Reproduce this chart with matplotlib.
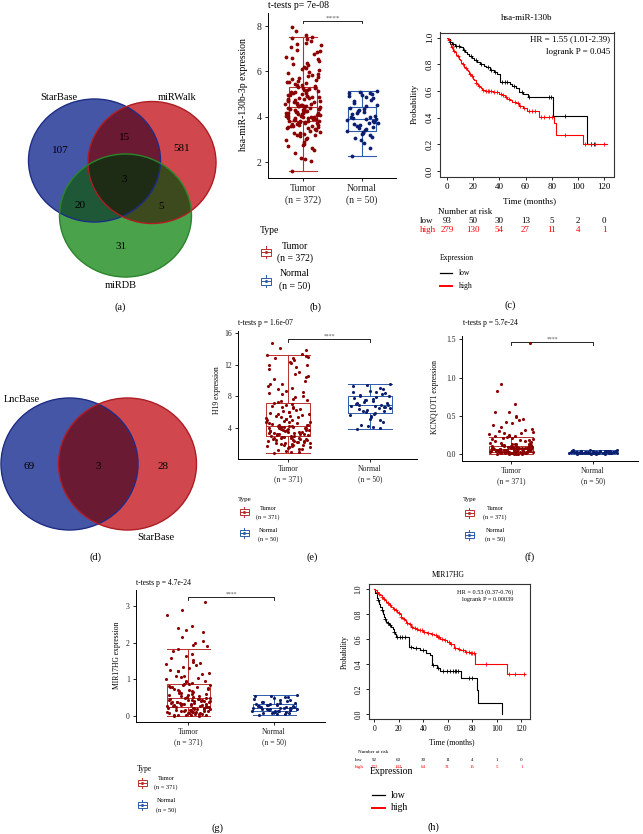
import numpy as np
import matplotlib
matplotlib.use("Agg")
import matplotlib.pyplot as plt
from matplotlib.patches import Ellipse, Rectangle
from matplotlib.colors import to_rgba
from matplotlib import transforms

plt.rcParams['font.family'] = ['Liberation Serif', 'DejaVu Serif']

# ======================= DATA =======================
# (a) Venn: StarBase / miRWalk / miRDB  (bit1=StarBase, bit2=miRWalk, bit4=miRDB)
venn_a_names = ["StarBase", "miRWalk", "miRDB"]
venn_a_counts = {1: 107, 2: 581, 4: 31, 3: 15, 5: 20, 6: 5, 7: 3}
# (d) Venn: LncBase / StarBase
venn_d_names = ["LncBase", "StarBase"]
venn_d_counts = {1: 69, 2: 28, 3: 3}

groups = ["Tumor", "Normal"]

# (b) hsa-miR-130b-3p expression
b_n = [372, 50]
b_q1 = [3.80, 3.36]
b_med = [4.42, 3.88]
b_q3 = [5.30, 4.42]
b_lo = [1.60, 2.27]
b_hi = [7.52, 5.12]
b_tumor = [1.62, 2.05, 2.12, 2.16, 2.38, 2.55, 2.63, 2.74, 2.81, 2.88,
           2.95, 3.02, 3.07, 3.13, 3.18, 3.21, 3.27, 3.30, 3.33, 3.38,
           3.41, 3.44, 3.48, 3.50, 3.53, 3.57, 3.58, 3.61, 3.64, 3.66,
           3.68, 3.71, 3.72, 3.75, 3.76, 3.79, 3.80, 3.82, 3.85, 3.86,
           3.88, 3.91, 3.92, 3.94, 3.97, 3.98, 4.00, 4.03, 4.04, 4.06,
           4.09, 4.10, 4.12, 4.15, 4.16, 4.18, 4.21, 4.22, 4.24, 4.27,
           4.28, 4.30, 4.33, 4.34, 4.36, 4.39, 4.40, 4.42, 4.45, 4.46,
           4.48, 4.51, 4.52, 4.55, 4.58, 4.61, 4.63, 4.66, 4.70, 4.72,
           4.75, 4.79, 4.81, 4.84, 4.88, 4.90, 4.93, 4.97, 5.00, 5.03,
           5.07, 5.10, 5.14, 5.19, 5.22, 5.26, 5.31, 5.34, 5.38, 5.43,
           5.47, 5.52, 5.58, 5.62, 5.68, 5.75, 5.80, 5.86, 5.93, 5.98,
           6.05, 6.13, 6.20, 6.28, 6.37, 6.45, 6.55, 6.64, 6.75, 6.86,
           6.95, 7.06, 7.15, 7.26, 7.35, 7.44, 7.52, 7.60, 7.76, 7.95,
           3.55, 3.62, 3.70, 3.83, 3.95, 4.02, 4.14, 4.26, 4.37, 4.49,
           4.57, 4.68, 4.77, 4.86, 4.95, 5.05, 5.16, 5.28, 5.40, 5.55,
           5.70, 5.90, 6.10, 6.32, 6.60, 6.90, 7.20, 7.48, 3.25, 2.70]
b_normal = [2.25, 2.62, 2.85, 2.95, 3.05, 3.12, 3.18, 3.22, 3.28, 3.32,
            3.36, 3.40, 3.45, 3.50, 3.55, 3.58, 3.62, 3.66, 3.70, 3.74,
            3.78, 3.82, 3.85, 3.88, 3.90, 3.93, 3.97, 4.00, 4.05, 4.10,
            4.15, 4.20, 4.25, 4.30, 4.35, 4.40, 4.45, 4.52, 4.60, 4.68,
            4.75, 4.82, 4.88, 4.92, 4.96, 5.00, 5.03, 5.06, 5.09, 5.12]

# (c) KM hsa-miR-130b
c_low_t = [0, 1, 2, 3.6, 6, 8, 10, 12, 14, 15, 17, 19, 21, 23, 25, 28, 30, 33, 36,
           38, 40.5, 48, 50, 53, 55, 58, 62, 81, 107, 114.5]
c_low_s = [1.0, 0.99, 0.97, 0.95, 0.94, 0.935, 0.93, 0.91, 0.89, 0.88, 0.86, 0.845,
           0.83, 0.82, 0.80, 0.79, 0.78, 0.76, 0.745, 0.73, 0.67, 0.65, 0.635, 0.62,
           0.59, 0.575, 0.553, 0.417, 0.206, 0.206]
c_high_t = [0, 1, 2, 3, 4, 5, 6, 7, 8, 9, 10, 11, 12, 13, 14, 15, 16, 17, 18, 19, 20,
            21, 22, 23, 24, 25, 26, 27, 28, 29, 35, 37, 40, 42, 44, 46, 48, 50, 53, 55,
            58, 61, 70, 82, 83, 83.5, 104, 122]
c_high_s = [1.0, 0.98, 0.95, 0.93, 0.92, 0.90, 0.89, 0.87, 0.86, 0.84, 0.83, 0.81,
            0.80, 0.78, 0.77, 0.76, 0.75, 0.73, 0.72, 0.71, 0.69, 0.68, 0.66, 0.65,
            0.64, 0.63, 0.62, 0.61, 0.605, 0.60, 0.595, 0.59, 0.58, 0.57, 0.555, 0.54,
            0.53, 0.52, 0.51, 0.49, 0.47, 0.454, 0.404, 0.36, 0.32, 0.273, 0.20, 0.20]
c_low_cens = [2, 5, 7, 9, 13, 18, 22, 26, 31, 34, 37, 42, 44, 46, 51, 57, 63, 78,
              79.5, 90, 110, 112.5]
c_high_cens = [1.5, 3.5, 5.5, 8.5, 12.5, 14.5, 17.5, 19.5, 22.5, 24.5, 27.5, 30, 31,
               32, 34, 36, 38, 41, 43, 45, 47, 52, 54, 56, 59, 63, 65, 67, 72, 74, 78,
               80, 90, 105, 110, 113, 120]
c_risk_times = [0, 20, 40, 60, 80, 100, 120]
c_risk_low = [93, 50, 30, 13, 5, 2, 0]
c_risk_high = [279, 130, 54, 27, 11, 4, 1]

# (e) H19 expression
e_n = [371, 50]
e_q1 = [3.0, 5.9]
e_med = [4.25, 6.9]
e_q3 = [7.1, 8.05]
e_lo = [0.85, 3.9]
e_hi = [13.25, 9.5]
e_tumor = [0.80, 0.92, 1.00, 1.12, 1.20, 1.31, 1.40, 1.48, 1.55, 1.62, 1.70, 1.74,
           1.80, 1.86, 1.90, 1.98, 2.05, 2.10, 2.14, 2.20, 2.26, 2.30, 2.35, 2.41,
           2.45, 2.50, 2.56, 2.60, 2.65, 2.71, 2.75, 2.80, 2.86, 2.90, 2.95, 3.00,
           3.05, 3.10, 3.14, 3.20, 3.25, 3.30, 3.35, 3.41, 3.45, 3.50, 3.55, 3.60,
           3.66, 3.70, 3.75, 3.81, 3.85, 3.90, 3.96, 4.00, 4.05, 4.10, 4.16, 4.20,
           4.25, 4.31, 4.35, 4.42, 4.50, 4.58, 4.66, 4.75, 4.82, 4.90, 5.00, 5.08,
           5.16, 5.25, 5.35, 5.44, 5.52, 5.62, 5.72, 5.80, 5.92, 6.00, 6.12, 6.25,
           6.38, 6.50, 6.62, 6.75, 6.88, 7.00, 7.10, 7.30, 7.50, 7.70, 7.92, 8.10,
           8.30, 8.52, 8.70, 8.92, 9.10, 9.32, 9.60, 9.90, 10.20, 10.50, 10.82,
           11.10, 11.40, 11.72, 12.00, 12.22, 12.40, 12.62, 12.80, 13.00, 13.10,
           13.20, 13.30, 13.80, 14.10, 14.70,
           1.65, 1.95, 2.22, 2.48, 2.68, 2.92, 3.18, 3.38, 3.58, 3.78, 3.98, 4.18,
           4.40, 4.70, 5.05, 5.50, 6.05, 6.70, 7.40, 8.40, 9.50, 10.60, 11.90, 12.90]
e_normal = [3.90, 3.95, 4.10, 4.30, 4.35, 4.80, 5.00, 5.20, 5.40, 5.50, 5.70, 5.80,
            5.90, 6.00, 6.10, 6.20, 6.30, 6.40, 6.50, 6.55, 6.60, 6.70, 6.75, 6.80,
            6.85, 6.90, 6.95, 7.00, 7.10, 7.20, 7.30, 7.40, 7.50, 7.60, 7.70, 7.80,
            7.90, 8.00, 8.10, 8.20, 8.30, 8.40, 8.50, 8.60, 8.70, 8.90, 9.10, 9.30,
            9.40, 9.50]

# (f) KCNQ1OT1 expression
f_n = [371, 50]
f_q1 = [0.027, 0.012]
f_med = [0.065, 0.020]
f_q3 = [0.105, 0.032]
f_lo = [0.0, 0.0]
f_hi = [0.22, 0.05]
f_tumor = [0.000, 0.002, 0.004, 0.006, 0.008, 0.010, 0.012, 0.014, 0.016, 0.018,
           0.020, 0.021, 0.022, 0.023, 0.024, 0.025, 0.026, 0.027, 0.028, 0.029,
           0.030, 0.032, 0.034, 0.036, 0.038, 0.040, 0.042, 0.044, 0.046, 0.048,
           0.050, 0.052, 0.054, 0.056, 0.058, 0.060, 0.062, 0.064, 0.066, 0.068,
           0.070, 0.072, 0.074, 0.076, 0.078, 0.080, 0.082, 0.085, 0.088, 0.090,
           0.093, 0.096, 0.100, 0.103, 0.106, 0.110, 0.115, 0.120, 0.125, 0.130,
           0.135, 0.140, 0.150, 0.160, 0.170, 0.180, 0.190, 0.200, 0.210, 0.220,
           0.230, 0.240, 0.250, 0.260, 0.270, 0.280, 0.300, 0.310, 0.330, 0.350,
           0.380, 0.400, 0.420, 0.450, 0.460, 0.480, 0.500, 0.550, 0.550, 0.650,
           0.830, 0.910, 1.450,
           0.001, 0.005, 0.009, 0.013, 0.017, 0.031, 0.035, 0.039, 0.043, 0.047,
           0.051, 0.055, 0.059, 0.063, 0.067, 0.071, 0.075, 0.079, 0.084, 0.091,
           0.098, 0.108, 0.118, 0.128, 0.145, 0.165, 0.185, 0.205, 0.235, 0.290]
f_normal = [0.002, 0.004, 0.005, 0.006, 0.007, 0.008, 0.009, 0.010, 0.011, 0.012,
            0.012, 0.013, 0.014, 0.014, 0.015, 0.016, 0.016, 0.017, 0.018, 0.018,
            0.019, 0.020, 0.020, 0.021, 0.022, 0.022, 0.023, 0.024, 0.025, 0.026,
            0.027, 0.028, 0.029, 0.030, 0.031, 0.032, 0.033, 0.034, 0.035, 0.036,
            0.037, 0.038, 0.040, 0.041, 0.042, 0.044, 0.045, 0.047, 0.048, 0.050]

# (g) MIR17HG expression
g_n = [371, 50]
g_q1 = [0.25, 0.14]
g_med = [0.48, 0.22]
g_q3 = [0.88, 0.34]
g_lo = [0.0, 0.03]
g_hi = [1.82, 0.57]
g_tumor = [0.00, 0.01, 0.02, 0.03, 0.04, 0.05, 0.06, 0.07, 0.08, 0.09, 0.10, 0.11,
           0.12, 0.13, 0.14, 0.15, 0.16, 0.17, 0.18, 0.19, 0.20, 0.21, 0.22, 0.23,
           0.24, 0.25, 0.26, 0.27, 0.28, 0.29, 0.30, 0.31, 0.32, 0.33, 0.34, 0.35,
           0.36, 0.37, 0.38, 0.39, 0.40, 0.41, 0.42, 0.43, 0.44, 0.45, 0.46, 0.47,
           0.48, 0.49, 0.50, 0.52, 0.54, 0.56, 0.58, 0.60, 0.62, 0.64, 0.66, 0.68,
           0.70, 0.72, 0.74, 0.76, 0.78, 0.80, 0.82, 0.84, 0.86, 0.88, 0.90, 0.93,
           0.96, 1.00, 1.03, 1.06, 1.10, 1.14, 1.18, 1.22, 1.26, 1.30, 1.35, 1.40,
           1.45, 1.48, 1.52, 1.58, 1.64, 1.70, 1.76, 1.82, 1.90, 1.95, 2.00, 2.05,
           2.15, 2.30, 2.35, 2.40, 2.45, 2.75, 2.90, 3.12,
           0.015, 0.035, 0.055, 0.075, 0.095, 0.115, 0.135, 0.155, 0.175, 0.195,
           0.215, 0.235, 0.255, 0.275, 0.295, 0.325, 0.355, 0.385, 0.415, 0.445,
           0.475, 0.51, 0.55, 0.61, 0.67, 0.73, 0.79, 0.85, 0.95, 1.08, 1.24, 1.42]
g_normal = [0.03, 0.05, 0.06, 0.07, 0.08, 0.09, 0.10, 0.11, 0.12, 0.13, 0.14, 0.14,
            0.15, 0.16, 0.17, 0.18, 0.18, 0.19, 0.20, 0.21, 0.21, 0.22, 0.22, 0.23,
            0.24, 0.25, 0.25, 0.26, 0.27, 0.28, 0.29, 0.30, 0.31, 0.32, 0.33, 0.34,
            0.35, 0.36, 0.37, 0.39, 0.41, 0.43, 0.45, 0.47, 0.49, 0.51, 0.53, 0.54,
            0.55, 0.57]

# (h) KM MIR17HG
h_low_t = [0, 1, 2, 3, 4, 5, 6, 7, 8, 9, 10, 11, 12, 13, 14, 15, 16, 17, 18, 28, 32,
           37.5, 42, 45.6, 47, 51, 54, 71, 84, 84.5, 104]
h_low_s = [1.0, 0.97, 0.93, 0.91, 0.88, 0.86, 0.83, 0.80, 0.78, 0.76, 0.74, 0.73,
           0.72, 0.71, 0.70, 0.68, 0.66, 0.64, 0.62, 0.54, 0.53, 0.51, 0.49, 0.47,
           0.39, 0.37, 0.345, 0.29, 0.19, 0.09, 0.0]
h_high_t = [0, 1, 2, 3, 4, 5, 6, 7, 8, 9, 10, 11, 12, 13, 14, 15, 16, 17, 18, 19, 20,
            21, 22, 23, 24, 25, 26, 27, 28, 30, 32, 34, 36, 38, 40, 43, 46, 49, 51,
            54, 57, 59, 62, 65, 68, 70, 74, 78, 82, 108, 123]
h_high_s = [1.0, 0.99, 0.98, 0.97, 0.96, 0.95, 0.94, 0.93, 0.92, 0.91, 0.90, 0.89,
            0.88, 0.87, 0.86, 0.85, 0.84, 0.83, 0.83, 0.82, 0.81, 0.80, 0.78, 0.77,
            0.76, 0.75, 0.74, 0.73, 0.72, 0.70, 0.69, 0.68, 0.675, 0.67, 0.66, 0.65,
            0.64, 0.63, 0.62, 0.60, 0.59, 0.58, 0.56, 0.53, 0.52, 0.51, 0.50, 0.49,
            0.40, 0.32, 0.32]
h_low_cens = [3, 6, 9, 11, 13, 16, 19, 21, 23, 25, 30, 34, 40, 48, 52, 56, 59, 62, 64,
              66, 67, 68, 77, 80]
h_high_cens = [2, 4, 6, 8, 11, 13, 16, 18, 20, 22, 24, 27, 29, 31, 33, 35, 37, 39, 41,
               44, 47, 50, 52, 53, 55, 58, 61, 63, 66, 69, 72, 75, 77, 79, 80, 81, 91,
               110, 115, 122]
h_risk_times = [0, 20, 40, 60, 80, 100, 120]
h_risk_low = [92, 60, 30, 11, 4, 1, 0]
h_risk_high = [272, 142, 64, 31, 15, 5, 1]

# ======================= STYLE / LAYOUT =======================
TUM_PT = '#8B0000'
TUM_BOX = '#B8302C'
NOR_PT = '#0B1F6E'
NOR_BOX = '#2C5BAA'

W, H = 643, 834
fig = plt.figure(figsize=(W / 100, H / 100), dpi=100)
fig.patch.set_facecolor('white')

ov = fig.add_axes([0, 0, 1, 1], zorder=5)
ov.set_xlim(0, W)
ov.set_ylim(H, 0)
ov.axis('off')
ov.patch.set_alpha(0)


def px_axes(l, t, r, b):
    a = fig.add_axes([l / W, 1 - b / H, (r - l) / W, (b - t) / H], zorder=2)
    a.patch.set_alpha(0)
    return a


def txt(x, y, s, fs, **kw):
    kw.setdefault('ha', 'center')
    kw.setdefault('va', 'center')
    ov.text(x, y, s, fontsize=fs, **kw)


# ---------- Venn ----------
def venn(ellipses, edgecols, region_cols, extent):
    x0, x1, y0, y1 = extent
    res = 4
    xs = np.linspace(x0, x1, int((x1 - x0) * res))
    ys = np.linspace(y0, y1, int((y1 - y0) * res))
    X, Y = np.meshgrid(xs, ys)
    code = np.zeros(X.shape, dtype=int)
    for i, (cx, cy, rx, ry) in enumerate(ellipses):
        code += ((((X - cx) / rx) ** 2 + ((Y - cy) / ry) ** 2) <= 1).astype(int) << i
    img = np.zeros(X.shape + (4,))
    for k, col in region_cols.items():
        img[code == k] = to_rgba(col)
    ov.imshow(img, extent=(x0, x1, y1, y0), origin='upper', interpolation='bilinear',
              aspect='auto', zorder=1)
    for (cx, cy, rx, ry), ec in zip(ellipses, edgecols):
        ov.add_patch(Ellipse((cx, cy), 2 * rx, 2 * ry, fill=False, ec=ec, lw=1.0, zorder=2))
    ov.set_xlim(0, W)
    ov.set_ylim(H, 0)


venn_a_geom = [(94.5, 160.5, 66, 61.5), (152, 162.5, 64, 61), (125.5, 215.5, 66, 61.5)]
venn_a_region_cols = {1: '#4657A7', 2: '#D0484D', 4: '#4BA24B', 3: '#6B1B33',
                      5: '#1F5837', 6: '#3D4A1D', 7: '#1F2C16'}
venn(venn_a_geom, ['#1C2C86', '#B01C22', '#2A862A'], venn_a_region_cols, (20, 225, 90, 285))
venn_a_label_pos = [(59, 97), (177, 97), (121, 285)]
for name, (x, y) in zip(venn_a_names, venn_a_label_pos):
    txt(x, y, name, 7.5)
venn_a_num_pos = {1: (60, 150), 3: (125, 137), 2: (182, 148), 7: (124, 179),
                  5: (80, 205), 6: (161, 206), 4: (121, 246)}
for k, v in venn_a_counts.items():
    txt(*venn_a_num_pos[k], str(v), 8)

venn_d_geom = [(69.5, 464, 68.5, 66), (127.5, 464, 69, 66)]
venn_d_region_cols = {1: '#4657A7', 2: '#D0484D', 3: '#6B1B33'}
venn(venn_d_geom, ['#1C2C86', '#B01C22'], venn_d_region_cols, (0, 200, 395, 533))
txt(22, 399, venn_d_names[0], 7.5)
txt(156, 537, venn_d_names[1], 7.5)
venn_d_num_pos = {1: (29, 466), 3: (98, 466), 2: (163, 466)}
for k, v in venn_d_counts.items():
    txt(*venn_d_num_pos[k], str(v), 8)


# ---------- box plots ----------
def legend_icon(cx, cy, col, w, h, wh, lw=0.7):
    ov.add_patch(Rectangle((cx - w / 2, cy - h / 2), w, h, fill=False, ec=col, lw=lw, zorder=3))
    ov.plot([cx, cx], [cy - h / 2 - wh, cy - h / 2], color=col, lw=lw, zorder=3)
    ov.plot([cx, cx], [cy + h / 2, cy + h / 2 + wh], color=col, lw=lw, zorder=3)
    ov.plot([cx - w / 2, cx + w / 2], [cy, cy], color=col, lw=lw, zorder=3)
    ov.plot([cx], [cy], marker='o', ms=2.2, color=col, mew=0, zorder=4)


def jitter_offsets(n, width):
    # deterministic, well-scattered horizontal jitter (layout only)
    k = np.arange(n)
    u = (np.sin(k * 12.9898 + 78.233) * 43758.5453) % 1.0
    return (u - 0.5) * 2 * width


def box_panel(L, tumor, normal, q1, med, q3, lo, hi, ns, title, ylabel):
    ax = px_axes(*L['rect'])
    ax.set_xlim(*L['xlim'])
    ax.set_ylim(*L['ylim'])
    for i, col in enumerate([TUM_BOX, NOR_BOX]):
        st = dict(med=med[i], q1=q1[i], q3=q3[i], whislo=lo[i], whishi=hi[i], fliers=[])
        pr = dict(color=col, lw=L['lw'])
        ax.bxp([st], positions=[i], widths=L['bw'], capwidths=L['bw'], showfliers=False,
               boxprops=pr, medianprops=pr, whiskerprops=pr, capprops=pr, manage_ticks=False)
    for i, (vals, col) in enumerate([(tumor, TUM_PT), (normal, NOR_PT)]):
        off = jitter_offsets(len(vals), L['jw'][i])
        ax.scatter(i + off, vals, s=L['ms'], color=col, lw=0, zorder=3)
    yb, d = L['bracket']
    ax.plot([0, 0, 1, 1], [yb - d, yb, yb, yb - d], color='black', lw=0.6, clip_on=False)
    ax.annotate('****', xy=(0.5, yb), xytext=(0, 0.5), textcoords='offset points',
                ha='center', va='bottom', fontsize=L['fs'] * 0.75, color='#555555',
                annotation_clip=False)
    for s in ['top', 'right']:
        ax.spines[s].set_visible(False)
    for s in ['left', 'bottom']:
        ax.spines[s].set_linewidth(0.7)
    ax.set_yticks(L['yticks'])
    ax.set_yticklabels(L['yticklabels'])
    ax.set_xticks([0, 1])
    ax.set_xticklabels([f"{g}\n(n = {n})" for g, n in zip(groups, ns)], linespacing=1.3)
    ax.tick_params(labelsize=L['fs'], length=2.5, width=0.6, pad=2, colors='black',
                   labelcolor='#222222')
    tl, ty = L['title']
    txt(tl, ty, title, L['fs'], ha='left')
    yx, yy = L['ylab']
    txt(yx, yy, ylabel, L['fs'], rotation=90)
    # legend
    lx, ly = L['type']
    txt(lx, ly, 'Type', L['lfs'], ha='left')
    for (ix, iy), (tx, ty1, ty2), col, g, n in zip(L['icons'], L['ltext'], [TUM_BOX, NOR_BOX],
                                                   groups, ns):
        legend_icon(ix, iy, col, *L['isz'])
        txt(tx, ty1, g, L['lfs2'])
        txt(tx, ty2, f"(n = {n})", L['lfs2'])
    return ax


def lims_from(rect, x0px, x1px, ya_px, ya_val, yb_px, yb_val):
    l, t, r, b = rect
    ppx = x1px - x0px
    xl = ((l - x0px) / ppx, (r - x0px) / ppx)
    ppy = (yb_px - ya_px) / (ya_val - yb_val)
    yl = (yb_val - (b - yb_px) / ppy, ya_val + (ya_px - t) / ppy)
    return xl, yl


# (b)
rb = (268, 13, 396, 178)
xl, yl = lims_from(rb, 303, 362, 26, 8, 162, 2)
Lb = dict(rect=rb, xlim=xl, ylim=yl, lw=0.8, bw=0.49, jw=(0.30, 0.27), ms=7.5,
          bracket=(8.22, 0.09), fs=7, yticks=[2, 4, 6, 8], yticklabels=['2', '4', '6', '8'],
          title=(268, 5), ylab=(243, 95), type=(260, 230), icons=[(266, 252), (266, 281)],
          ltext=[(295, 246, 258), (295, 274, 286)], isz=(10, 7, 2.5), lfs=7, lfs2=7)
box_panel(Lb, b_tumor, b_normal, b_q1, b_med, b_q3, b_lo, b_hi, b_n,
          't-tests p= 7e-08', 'hsa-miR-130b-3p expression')
txt(315, 307, '(b)', 7.5)

# (e)
re = (238, 331, 417, 459)
xl, yl = lims_from(re, 288, 370, 333, 16, 428, 4)
Le = dict(rect=re, xlim=xl, ylim=yl, lw=0.7, bw=0.54, jw=(0.27, 0.25), ms=5,
          bracket=(15.24, 0.35), fs=5.5, yticks=[4, 8, 12, 16],
          yticklabels=['4', '8', '12', '16'], title=(238, 323), ylab=(217, 390),
          type=(238, 499), icons=[(244, 512), (244, 533)],
          ltext=[(268, 508, 517), (268, 530, 539)], isz=(9, 6, 2), lfs=5, lfs2=4.5)
box_panel(Le, e_tumor, e_normal, e_q1, e_med, e_q3, e_lo, e_hi, e_n,
          't-tests p = 1.6e-07', 'H19 expression')
txt(312, 557, '(e)', 7.5)

# (f)
rf = (462, 336, 638, 461)
xl, yl = lims_from(rf, 511, 593, 339.3, 1.5, 454, 0.0)
Lf = dict(rect=rf, xlim=xl, ylim=yl, lw=0.7, bw=0.54, jw=(0.27, 0.3), ms=5,
          bracket=(1.465, 0.035), fs=5.5, yticks=[0.0, 0.5, 1.0, 1.5],
          yticklabels=['0.0', '0.5', '1.0', '1.5'], title=(463, 323), ylab=(435, 397),
          type=(463, 499), icons=[(469, 513), (469, 535)],
          ltext=[(495, 508, 517), (495, 531, 539)], isz=(9, 6, 2), lfs=5, lfs2=4.5)
box_panel(Lf, f_tumor, f_normal, f_q1, f_med, f_q3, f_lo, f_hi, f_n,
          't-tests p = 5.7e-24', 'KCNQ1OT1 expression')
txt(530, 557, '(f)', 7.5)

# (g)
rg = (136, 590, 325, 722)
xl, yl = lims_from(rg, 188, 274, 606, 3, 716, 0)
Lg = dict(rect=rg, xlim=xl, ylim=yl, lw=0.7, bw=0.5, jw=(0.26, 0.27), ms=5,
          bracket=(3.245, 0.08), fs=5.5, yticks=[0, 1, 2, 3],
          yticklabels=['0', '1', '2', '3'], title=(136, 583), ylab=(117, 655),
          type=(137, 769), icons=[(142, 783), (142, 805)],
          ltext=[(166, 778, 787), (166, 801, 810)], isz=(9, 6, 2), lfs=5.5, lfs2=4.5)
box_panel(Lg, g_tumor, g_normal, g_q1, g_med, g_q3, g_lo, g_hi, g_n,
          't-tests p = 4.7e-24', 'MIR17HG expression')
txt(218, 828, '(g)', 7.5)


# ---------- KM ----------
def step_val(t, s, q):
    t = np.asarray(t)
    s = np.asarray(s)
    idx = np.searchsorted(t, q, side='right') - 1
    return s[np.clip(idx, 0, len(s) - 1)]


def km_panel(L, lt, ls, ht, hs, lc, hc, rtimes, rlow, rhigh, title, hr, lp):
    ax = px_axes(*L['rect'])
    ax.set_xlim(*L['xlim'])
    ax.set_ylim(-0.04, 1.04)
    ax.step(lt, ls, where='post', color='black', lw=0.8)
    ax.step(ht, hs, where='post', color='red', lw=0.8)
    ax.plot(lc, step_val(lt, ls, lc), ls='none', marker='+', ms=L['cms'], mew=0.6,
            color='black')
    ax.plot(hc, step_val(ht, hs, hc), ls='none', marker='+', ms=L['cms'], mew=0.6,
            color='red')
    for s in ax.spines.values():
        s.set_linewidth(0.8)
        s.set_color('#333333')
    ax.set_xticks(rtimes)
    ax.set_yticks([0, 0.2, 0.4, 0.6, 0.8, 1.0])
    ax.set_yticklabels(['0.0', '0.2', '0.4', '0.6', '0.8', '1.0'])
    ax.tick_params(labelsize=L['fs'], length=2.5, width=0.6, pad=2)
    ax.tick_params(axis='y', labelrotation=90)
    for lab in ax.get_yticklabels():
        lab.set_va('center')
    tx, ty = L['title']
    txt(tx, ty, title, L['fs'])
    hx, hy1, hy2 = L['hr']
    txt(hx, hy1, hr, L['hfs'], ha='right')
    txt(hx, hy2, lp, L['hfs'], ha='right')
    yx, yy = L['ylab']
    txt(yx, yy, 'Probability', L['fs'], rotation=90)
    txt(*L['xlab'], 'Time (months)', L['fs'])
    # number at risk
    bt = transforms.blended_transform_factory(ax.transData, ov.transData)
    nx, ny, nha = L['nar']
    txt(nx, ny, 'Number at risk', L['rfs'], ha=nha)
    lx, y1, y2 = L['rows']
    txt(lx, y1, 'low', L['rfs'], ha='left')
    txt(lx, y2, 'high', L['rfs'], ha='left', color='red')
    for t, a, b in zip(rtimes, rlow, rhigh):
        ax.text(t, y1, str(a), transform=bt, fontsize=L['rfs'], ha='center', va='center',
                clip_on=False)
        ax.text(t, y2, str(b), transform=bt, fontsize=L['rfs'], ha='center', va='center',
                color='red', clip_on=False)
    # legend
    ex, ey, ha_e = L['exp']
    txt(ex, ey, 'Expression', L['efs'], ha=ha_e)
    (x0, x1), (ly1, ly2), tlx = L['leg']
    ov.plot([x0, x1], [ly1, ly1], color='black', lw=0.9)
    ov.plot([x0, x1], [ly2, ly2], color='red', lw=1.4)
    txt(tlx, ly1, 'low', L['efs'], ha='left')
    txt(tlx, ly2, 'high', L['efs'], ha='left')
    return ax


rc = (440, 32.5, 614, 176.5)
Lc = dict(rect=rc, xlim=(-5.3, 127.5), cms=3.0, fs=6.5, title=(527, 18),
          hr=(610, 39, 52), hfs=6.5, ylab=(415, 104), xlab=(530, 201),
          nar=(438, 212, 'left'), rows=(420, 221, 230), rfs=6.5,
          exp=(440, 258, 'left'), leg=((440, 452), (273, 286), 459), efs=5.5)
km_panel(Lc, c_low_t, c_low_s, c_high_t, c_high_s, c_low_cens, c_high_cens,
         c_risk_times, c_risk_low, c_risk_high, 'hsa-miR-130b',
         'HR = 1.55 (1.01-2.39)', 'logrank P = 0.045')
txt(510, 305, '(c)', 7.5)

rh = (369, 584, 530, 719)
Lh = dict(rect=rh, xlim=(-4.2, 127.0), cms=2.6, fs=5.5, title=(448, 575),
          hr=(513, 592, 600), hfs=4.5, ylab=(345, 652), xlab=(452, 742),
          nar=(373, 752, 'center'), rows=(355, 760, 767), rfs=3.6,
          exp=(391, 772, 'center'), leg=((372, 385), (795, 808), 391), efs=7)
km_panel(Lh, h_low_t, h_low_s, h_high_t, h_high_s, h_low_cens, h_high_cens,
         h_risk_times, h_risk_low, h_risk_high, 'MIR17HG',
         'HR = 0.53 (0.37-0.76)', 'logrank P = 0.00039')
txt(433, 827, '(h)', 7.5)

# panel labels for Venn panels
txt(120, 307, '(a)', 7.5)
txt(96, 557, '(d)', 7.5)

fig.savefig('out.png', dpi=100, facecolor='white')
